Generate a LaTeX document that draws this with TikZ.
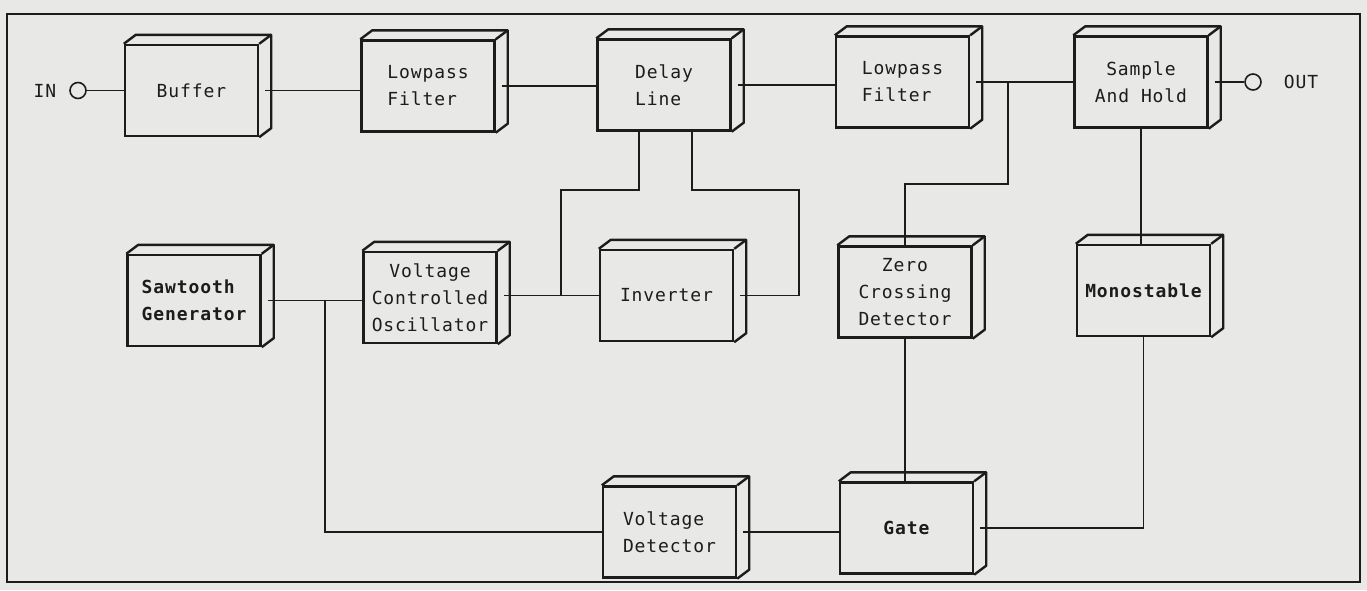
\documentclass[tikz,border=0pt]{standalone}
\usepackage{fontspec}
\usetikzlibrary{calc}
\newfontfamily\boxfont[LetterSpace=5.0]{DejaVu Sans Mono}
\definecolor{paper}{RGB}{232,232,230}
\definecolor{ink}{RGB}{28,28,28}
\tikzset{
  blk/.style={draw=ink, line width=2.4pt, minimum width=133pt, minimum height=91pt,
    inner sep=0pt, font=\boxfont\fontsize{18}{27}\selectfont, text=ink, align=left},
  blkc/.style={blk, align=center},
  heavy/.style={font=\boxfont\bfseries\fontsize{18}{27}\selectfont},
  depth/.style={draw=ink, line width=2.4pt, line join=round},
  wire/.style={draw=ink, line width=1.3pt},
  term/.style={circle, draw=ink, line width=1.6pt, minimum size=16pt, inner sep=0pt},
  lbl/.style={font=\boxfont\fontsize{18}{27}\selectfont, text=ink, inner sep=0pt}
}
\begin{document}
\begin{tikzpicture}[x=1pt, y=-1pt]
\fill[paper] (0,0) rectangle (1367,590);
\useasboundingbox (0,0) rectangle (1367,590);
\draw[ink, line width=1.8pt] (7,14) rectangle (1360,582);

% row 1
\node[blk] (buf) at (191.5,90.5) {Buffer};
\node[blk] (lpa) at (428,86) {Lowpass\\Filter};
\node[blk] (del) at (664,85) {Delay\\Line};
\node[blk] (lpb) at (902.5,82) {Lowpass\\Filter};
\node[blkc] (sah) at (1141,82) {Sample\\And Hold};
% row 2
\node[blk, heavy] (saw) at (194,300.5) {Sawtooth\\Generator};
\node[blkc] (vco) at (430,297.5) {Voltage\\Controlled\\Oscillator};
\node[blk] (inv) at (666.5,295.5) {Inverter};
\node[blkc] (zcd) at (905,292) {Zero\\Crossing\\Detector};
\node[blk, heavy] (mon) at (1143.5,290.5) {Monostable};
% row 3
\node[blk] (vdt) at (669.5,532) {Voltage\\Detector};
\node[blk, heavy] (gat) at (906.5,528) {Gate};

\foreach \n in {buf,lpa,del,lpb,sah,saw,vco,inv,zcd,mon,vdt,gat} {
  \draw[depth] (\n.north west) -- ++(12,-9) -| ($(\n.south east)+(12,-9)$) -- (\n.south east);
  \draw[depth] (\n.north east) -- ++(12,-9);
  \coordinate (\n-s) at ($(\n.east)+(6,0)$);
}

% terminals
\node[term] (in) at (78,90.5) {};
\node[lbl] (inl) at (45,90.5) {IN};
\node[term] (out) at (1253,82) {};
\node[lbl] (outl) at (1301,82) {OUT};

% bend points
\coordinate (j1) at (1008,82);
\coordinate (k1) at (1008,184);
\coordinate (d1) at (639,190);
\coordinate (d2) at (692,190);
\coordinate (e1) at (561,190);
\coordinate (e2) at (799,190);
\coordinate (j2) at (325,300.5);

% connectors
\draw[wire] (in) -- (buf.west);
\draw[wire] (buf-s) -- (buf-s -| lpa.west);
\draw[wire] (lpa-s) -- (lpa-s -| del.west);
\draw[wire] (del-s) -- (del-s -| lpb.west);
\draw[wire] (lpb-s) -- (lpb-s -| sah.west);
\draw[wire] (sah-s) -- (out);
\draw[wire] (j1) -- (k1) -| (zcd.north);
\draw[wire] (sah.south) -- (sah.south |- mon.north);
\draw[wire] (d1 |- del.south) -- (d1) -- (e1) -- (e1 |- inv.west);
\draw[wire] (d2 |- del.south) -- (d2) -- (e2) |- (inv-s);
\draw[wire] (inv.west) -- (inv.west -| vco-s);
\draw[wire] (saw-s) -- (saw-s -| vco.west);
\draw[wire] (j2) |- (vdt.west);
\draw[wire] (vdt-s) -- (vdt-s -| gat.west);
\draw[wire] (zcd.south) -- (zcd.south |- gat.north);
\draw[wire] (mon.south) |- (gat-s);
\end{tikzpicture}
\end{document}
